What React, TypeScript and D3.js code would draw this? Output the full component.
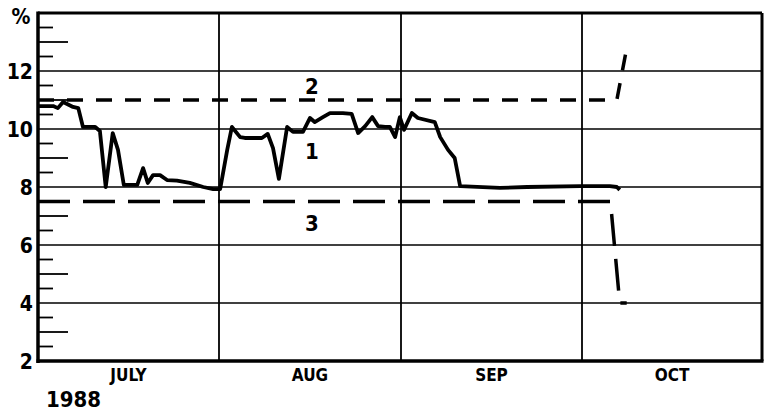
import React from "react";
import * as d3 from "d3";

// Days counted from 1 July 1988
const monthLabels = ["JULY", "AUG", "SEP", "OCT"];
const monthStarts = [0, 31, 62, 92, 123];
const yGridValues = [2, 4, 6, 8, 10, 12];
const yMinorTicks = [2.5, 3, 3.5, 4.5, 5, 5.5, 6.5, 7, 7.5, 8.5, 9, 9.5, 10.5, 11, 11.5, 12.5, 13, 13.5];
const yearLabel = "1988";
const unitLabel = "%";

// Series 1: observed rate (solid)
const series1: [number, number][] = [
  [0, 10.79], [2.6, 10.79], [3.4, 10.72], [4.3, 10.93], [6.0, 10.76], [6.9, 10.72],
  [7.7, 10.07], [9.8, 10.07], [10.6, 9.93], [11.6, 8.0], [12.8, 9.86], [13.7, 9.28],
  [14.7, 8.07], [17.0, 8.07], [18.0, 8.65], [18.8, 8.14], [19.7, 8.41], [20.9, 8.41],
  [22.1, 8.24], [23.8, 8.22], [26.0, 8.14], [28.3, 8.0], [30.0, 7.93], [31.2, 7.93],
  [32.4, 9.28], [33.2, 10.07], [34.6, 9.72], [35.4, 9.69], [38.3, 9.69], [39.3, 9.83],
  [40.2, 9.34], [41.2, 8.28], [42.6, 10.07], [43.6, 9.9], [45.3, 9.9], [46.5, 10.38],
  [47.3, 10.24], [48.7, 10.41], [49.9, 10.55], [52.1, 10.55], [53.6, 10.52], [54.7, 9.86],
  [55.9, 10.1], [57.1, 10.41], [58.1, 10.1], [59.3, 10.07], [60.1, 10.07], [61.0, 9.72],
  [61.8, 10.41], [62.5, 9.97], [63.8, 10.55], [64.8, 10.38], [67.6, 10.24], [68.5, 9.72],
  [69.8, 9.28], [70.9, 9.0], [71.8, 8.03], [78.4, 7.97], [82.9, 8.0], [91.7, 8.03],
  [96.8, 8.03], [98.0, 8.0], [98.5, 7.9],
];
// Series 2: upper band (dashed)
const series2: [number, number][] = [[0, 11], [98.0, 11], [99.9, 13.0]];
// Series 3: lower band (dashed)
const series3: [number, number][] = [[0, 7.5], [96.9, 7.5], [98.5, 4.0], [99.7, 4.0]];

const seriesLabels = [
  { text: "1", day: 47, value: 8.95 },
  { text: "2", day: 47, value: 11.2 },
  { text: "3", day: 47, value: 6.5 },
];

const W = 769;
const H = 413;
const FONT = "'DejaVu Sans Condensed', 'DejaVu Sans', sans-serif";

export default function App() {
  const x = d3.scaleLinear().domain(monthStarts).range([38, 219, 401, 582, 762]);
  const y = d3.scaleLinear().domain([2, 14]).range([361, 13]);
  const line = d3
    .line<[number, number]>()
    .x((d) => x(d[0]))
    .y((d) => y(d[1]));

  const left = x(0);
  const right = x(123);
  const top = y(14);
  const bottom = y(2);

  return (
    <svg
      width={W}
      height={H}
      style={{ position: "absolute", left: 0, top: 0, background: "#fff" }}
    >
      <rect x={0} y={0} width={W} height={H} fill="#fff" />
      {/* horizontal grid */}
      {yGridValues.slice(1).map((v) => (
        <line key={v} x1={left} x2={right} y1={y(v)} y2={y(v)} stroke="#000" strokeWidth={1.6} />
      ))}
      {/* month boundaries */}
      {monthStarts.slice(1, 4).map((d) => (
        <line key={d} x1={x(d)} x2={x(d)} y1={top} y2={bottom} stroke="#000" strokeWidth={1.8} />
      ))}
      {/* minor ticks */}
      {yMinorTicks.map((v) => (
        <line
          key={v}
          x1={left}
          x2={left + (Number.isInteger(v) ? 30 : 15)}
          y1={y(v)}
          y2={y(v)}
          stroke="#000"
          strokeWidth={1.8}
        />
      ))}
      {/* frame */}
      <line x1={left} x2={right} y1={top} y2={top} stroke="#000" strokeWidth={3} />
      <line x1={right} x2={right} y1={top} y2={bottom} stroke="#000" strokeWidth={3} />
      <line x1={left} x2={left} y1={top - 1.5} y2={bottom + 2} stroke="#000" strokeWidth={3.5} />
      <line x1={left - 1.5} x2={right + 1.5} y1={bottom} y2={bottom} stroke="#000" strokeWidth={3.5} />

      {/* series */}
      <path d={line(series2) || ""} fill="none" stroke="#000" strokeWidth={3.5} strokeDasharray="16 13" />
      <path d={line(series3) || ""} fill="none" stroke="#000" strokeWidth={3.5} strokeDasharray="32 13" />
      <path d={line(series1) || ""} fill="none" stroke="#000" strokeWidth={3.8} strokeLinejoin="round" />

      {/* series labels */}
      {seriesLabels.map((l) => (
        <text
          key={l.text}
          x={x(l.day) - 1}
          y={y(l.value)}
          textAnchor="middle"
          fontFamily={FONT}
          fontWeight="bold"
          fontSize={22}
        >
          {l.text}
        </text>
      ))}

      {/* y labels */}
      {yGridValues.map((v) => (
        <text
          key={v}
          x={33}
          y={y(v) + 8}
          textAnchor="end"
          fontFamily={FONT}
          fontWeight="bold"
          fontSize={21}
        >
          {v}
        </text>
      ))}
      <text x={21} y={24} textAnchor="middle" fontFamily={FONT} fontWeight="bold" fontSize={21}>
        {unitLabel}
      </text>

      {/* month labels */}
      {monthLabels.map((m, i) => (
        <text
          key={m}
          x={x((monthStarts[i] + monthStarts[i + 1]) / 2)}
          y={381}
          textAnchor="middle"
          fontFamily={FONT}
          fontWeight="bold"
          fontSize={17}
        >
          {m}
        </text>
      ))}
      <text x={46} y={407} fontFamily={FONT} fontWeight="bold" fontSize={22}>
        {yearLabel}
      </text>
    </svg>
  );
}
